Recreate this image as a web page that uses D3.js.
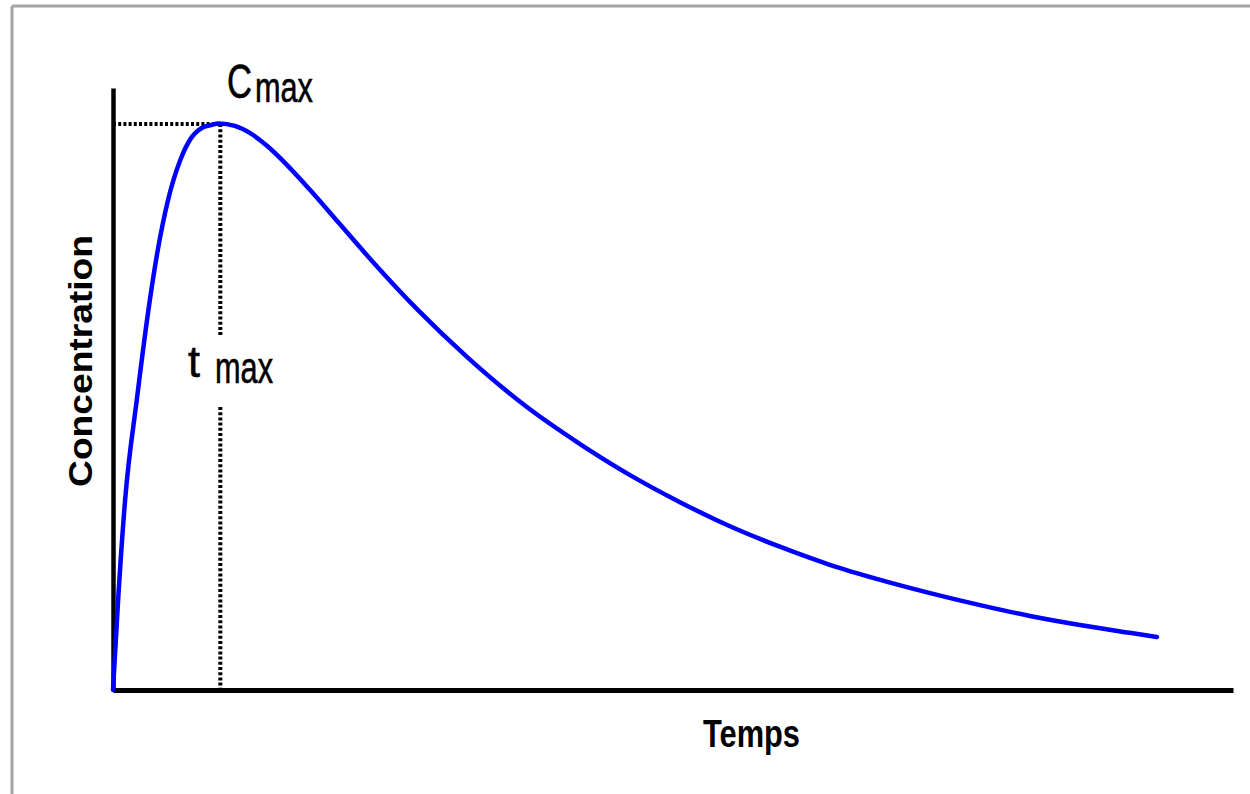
<!DOCTYPE html>
<html>
<head>
<meta charset="utf-8">
<script src="https://cdn.jsdelivr.net/npm/d3@7"></script>
<style>
  html, body { margin: 0; padding: 0; background: #fff; }
  svg { display: block; }
  text { font-family: "Liberation Sans", Arial, sans-serif; fill: #000; }
</style>
</head>
<body>
<svg id="chart" width="1250" height="794"></svg>
<script>
// ---- data (time in h, concentration in arbitrary units) ----
const times = [0, 0.11, 0.26, 0.51, 0.79, 0.96, 1.18, 1.44, 1.65, 1.91, 2.08, 2.27, 2.61, 2.94, 3.3, 3.73, 4.22, 4.86, 5.57, 6.51, 7.59, 8.87, 10.0, 11.08, 12.15, 13.22, 14.29, 15.36, 16.44, 17.51, 18.58, 19.65, 20.72, 21.79, 22.37];
const concentrations = [0, 15.0, 31.6, 48.2, 64.8, 73.1, 81.4, 88.0, 91.4, 93.4, 93.8, 94.1, 93.7, 92.5, 90.4, 87.2, 83.1, 77.4, 71.1, 63.3, 55.3, 47.0, 40.9, 35.7, 31.2, 27.2, 23.8, 20.8, 18.3, 16.1, 14.1, 12.3, 10.8, 9.5, 8.8];
const tmax = 2.3;
const cmax = 94.0;
const xDomain = [0, 24];
const yDomain = [0, 100];
const xLabel = "Temps";
const yLabel = "Concentration";
const cLabel = ["C", "max"];
const tLabel = ["t", "max"];

const svg = d3.select("#chart");

// frame
svg.append("line").attr("x1", 12).attr("y1", 6).attr("x2", 1250).attr("y2", 6)
  .attr("stroke", "#a3a3a3").attr("stroke-width", 3);
svg.append("line").attr("x1", 12).attr("y1", 6).attr("x2", 12).attr("y2", 794)
  .attr("stroke", "#a3a3a3").attr("stroke-width", 3);

const x = d3.scaleLinear().domain(xDomain).range([113, 1233]);
const y = d3.scaleLinear().domain(yDomain).range([690, 88]);

// dotted guides
const dot = { stroke: "#000", width: 4, dash: "3,2.2" };
function dotted(x1, y1, x2, y2) {
  svg.append("line").attr("x1", x1).attr("y1", y1).attr("x2", x2).attr("y2", y2)
    .attr("stroke", dot.stroke).attr("stroke-width", dot.width).attr("stroke-dasharray", dot.dash);
}
dotted(x(0), y(cmax), x(tmax), y(cmax));
const gapTop = 337, gapBottom = 407;
dotted(x(tmax), y(cmax), x(tmax), gapTop);
dotted(x(tmax), gapBottom, x(tmax), y(0));

// axes (no ticks)
const xAxis = svg.append("g").attr("transform", `translate(0,${y(0)})`)
  .call(d3.axisBottom(x).tickValues([]).tickSizeOuter(0));
xAxis.select(".domain").attr("stroke", "#000").attr("stroke-width", 5);
const yAxis = svg.append("g").attr("transform", `translate(${x(0)},0)`)
  .call(d3.axisLeft(y).tickValues([]).tickSizeOuter(0));
yAxis.select(".domain").attr("stroke", "#000").attr("stroke-width", 4.5);

// curve
const pts = times.map((t, i) => [t, concentrations[i]]);
const line = d3.line().x(d => x(d[0])).y(d => y(d[1])).curve(d3.curveMonotoneX);
svg.append("path").datum(pts).attr("d", line)
  .attr("fill", "none").attr("stroke", "#0000ff").attr("stroke-width", 4.5)
  .attr("stroke-linejoin", "round").attr("stroke-linecap", "round");

// labels: condensed by horizontal scaling to the widths seen in the figure
function txt(str, px, py, size, len, bold, rot, thick) {
  const g = svg.append("g");
  const t = g.append("text").attr("font-size", size)
    .attr("font-weight", bold ? "bold" : "normal")
    .text(str);
  if (thick) t.attr("stroke", "#000").attr("stroke-width", 0.6);
  const w = t.node().getComputedTextLength();
  const s = len / w;
  if (rot) {
    t.attr("text-anchor", "middle");
    g.attr("transform", `translate(${px},${py}) rotate(-90) scale(${s},1)`);
  } else {
    g.attr("transform", `translate(${px},${py}) scale(${s},1)`);
  }
  return t;
}
txt(cLabel[0], 227, 98, 48, 25, false, false, true);
txt(cLabel[1], 255, 102, 42, 58, false, false, true);
txt(tLabel[0], 188, 377, 44, 12, false, false, true);
txt(tLabel[1], 215, 383, 44, 58, false, false, true);
txt(yLabel, 92, 361, 33, 252, true, true);
txt(xLabel, 703, 747, 39, 97, true);
</script>
</body>
</html>
